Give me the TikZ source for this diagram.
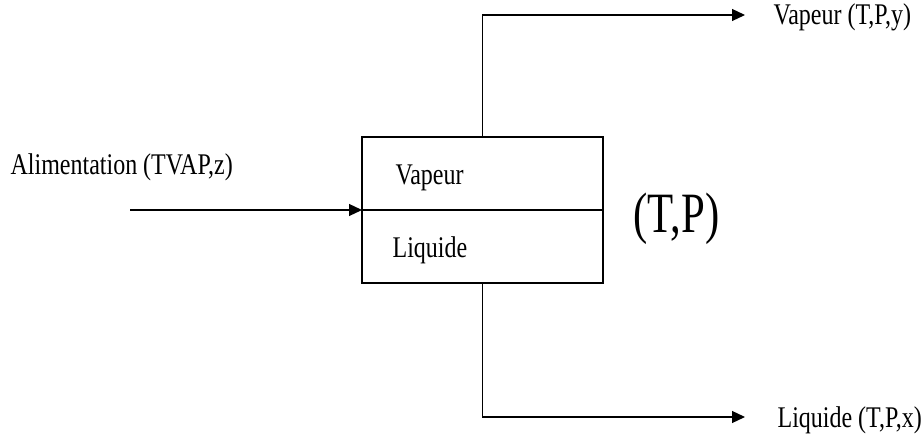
\documentclass[tikz,border=0pt]{standalone}
\usepackage{fontspec}
\setmainfont{Liberation Serif}[FakeStretch=0.8]
\newfontfamily\bigcond{Liberation Serif}[FakeStretch=0.75]
\usetikzlibrary{arrows.meta}
\begin{document}
\begin{tikzpicture}[x=1pt,y=-1pt,
  line width=1.2pt,
  flow/.style={-{Triangle[length=13pt,width=12pt]}},
  lbl/.style={anchor=base west,inner sep=0pt,font=\fontsize{30}{32}\selectfont},
  big/.style={anchor=base west,inner sep=0pt,font=\bigcond\fontsize{57}{60}\selectfont}]
\useasboundingbox (0,0) rectangle (921,438);
\node[draw,minimum width=241pt,minimum height=146pt,inner sep=0pt,outer sep=0pt] (box) at (482.5,210) {};
\draw (box.west) -- (box.east);
\coordinate (feed) at (130,210);
\coordinate (vout) at (745,15);
\coordinate (lout) at (745,417);
\draw[flow] (feed) -- (box.west);
\draw[flow] (box.north) |- (vout);
\draw[flow] (box.south) |- (lout);
\node[lbl] (alim) at (10,175) {Alimentation (TVAP,z)};
\node[lbl] (vap) at (395,185) {Vapeur};
\node[lbl] (liq) at (392,258) {Liquide};
\node[big] (tp) at (633,233) {(T,P)};
\node[lbl] (vapout) at (773,25) {Vapeur (T,P,y)};
\node[lbl] (liqout) at (777,427) {Liquide (T,P,x)};
\end{tikzpicture}
\end{document}
